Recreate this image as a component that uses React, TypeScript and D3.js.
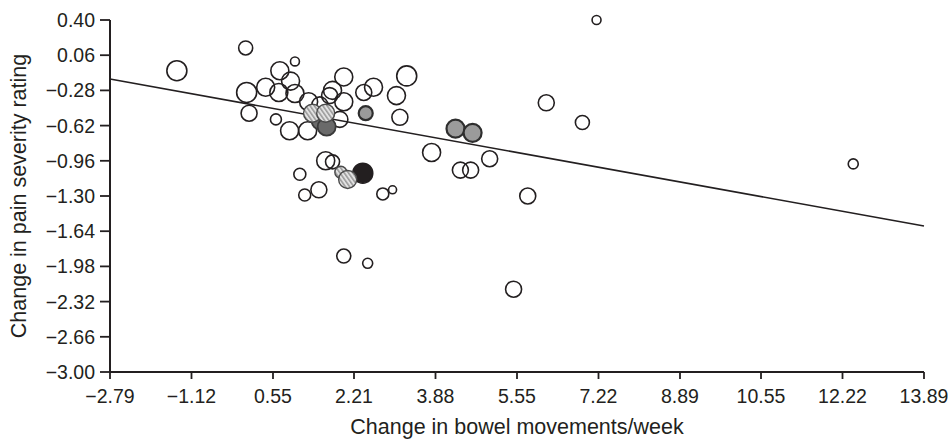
import React, { useEffect, useRef } from 'react';
import * as d3 from 'd3';

// axis ticks as printed on the figure
const xTicks = [-2.79, -1.12, 0.55, 2.21, 3.88, 5.55, 7.22, 8.89, 10.55, 12.22, 13.89];
const yTicks = [0.4, 0.06, -0.28, -0.62, -0.96, -1.3, -1.64, -1.98, -2.32, -2.66, -3.0];

// one entry per study arm
const bowelChange = [
  -1.42, -0.01, 1.0, 0.69, 0.01, 0.4, 0.91, 0.67, 1.0, 0.06, 0.61, 0.89, 1.26, 1.28, 1.51,
  1.77, 1.71, 2.0, 2.0, 1.92, 2.41, 2.61, 3.29, 3.08, 3.15, 2.45, 1.36, 1.63, 1.51, 1.65,
  1.63, 1.77, 1.1, 1.94, 2.08, 2.39, 1.2, 1.49, 2.8, 3.0, 2.0, 2.49, 3.8, 4.29, 4.64,
  4.39, 4.6, 4.99, 5.77, 5.48, 6.15, 6.89, 7.18, 12.44,
];
const painChange = [
  -0.09, 0.13, 0.0, -0.09, -0.3, -0.25, -0.19, -0.3, -0.31, -0.5, -0.56, -0.67, -0.67, -0.39, -0.42,
  -0.28, -0.33, -0.15, -0.39, -0.56, -0.3, -0.25, -0.14, -0.33, -0.54, -0.5, -0.5, -0.5, -0.58, -0.63,
  -0.96, -0.97, -1.09, -1.07, -1.14, -1.08, -1.29, -1.24, -1.28, -1.24, -1.88, -1.95, -0.88, -0.65, -0.69,
  -1.05, -1.05, -0.94, -1.3, -2.2, -0.4, -0.59, 0.4, -0.99,
];
const sampleSize = [
  100, 49, 20, 81, 100, 81, 81, 81, 81, 64, 30, 81, 81, 81, 64,
  81, 64, 81, 81, 64, 64, 81, 100, 81, 64, 49, 81, 81, 64, 81,
  81, 49, 36, 36, 81, 100, 36, 64, 36, 16, 49, 25, 81, 81, 81,
  64, 64, 64, 64, 64, 64, 49, 20, 25,
];
const armType = [
  'open', 'open', 'open', 'open', 'open', 'open', 'open', 'open', 'open', 'open', 'open', 'open', 'open', 'open', 'open',
  'open', 'open', 'open', 'open', 'open', 'open', 'open', 'open', 'open', 'open', 'gray', 'hatched', 'hatched', 'dark', 'dark',
  'open', 'open', 'open', 'hatched', 'hatched', 'black', 'open', 'open', 'open', 'open', 'open', 'open', 'open', 'gray', 'gray',
  'open', 'open', 'open', 'open', 'open', 'open', 'open', 'open', 'open',
];

// fitted regression line
const trendX = [-2.79, 13.89];
const trendY = [-0.17, -1.59];

const drawOrder = ['open', 'dark', 'gray', 'black', 'hatched'];

export default function App() {
  const ref = useRef<SVGSVGElement>(null);

  useEffect(() => {
    if (!ref.current) return;
    const svg = d3.select(ref.current);
    svg.selectAll('*').remove();

    const font = '"Liberation Sans", Arial, Helvetica, sans-serif';
    const ink = '#231f20';
    const left = 110, right = 924, top = 20, bottom = 372;

    const x = d3.scaleLinear().domain([-2.79, 13.89]).range([left, right]);
    const y = d3.scaleLinear().domain([-3.0, 0.4]).range([bottom, top]);
    const r = d3.scaleSqrt().domain([0, 100]).range([0, 10]);

    const defs = svg.append('defs');
    const pat = defs.append('pattern')
      .attr('id', 'hatch')
      .attr('patternUnits', 'userSpaceOnUse')
      .attr('width', 3.5)
      .attr('height', 3.5)
      .attr('patternTransform', 'rotate(-35)');
    pat.append('rect').attr('width', 3.5).attr('height', 3.5).attr('fill', '#e2e2e2');
    pat.append('line').attr('x1', 0.8).attr('x2', 0.8).attr('y1', 0).attr('y2', 3.5)
      .attr('stroke', '#8c8c8c').attr('stroke-width', 1.3);

    // regression line
    svg.append('line')
      .attr('x1', x(trendX[0])).attr('y1', y(trendY[0]))
      .attr('x2', x(trendX[1])).attr('y2', y(trendY[1]))
      .attr('stroke', ink).attr('stroke-width', 1.6);

    const fills: Record<string, string> = {
      open: 'none', gray: '#9b9b9b', dark: '#6a6a6a', black: '#231f20', hatched: 'url(#hatch)',
    };
    const strokes: Record<string, string> = {
      open: ink, gray: '#2e2e2e', dark: '#3a3a3a', black: '#231f20', hatched: '#4a4a4a',
    };
    const widths: Record<string, number> = {
      open: 1.6, gray: 2.2, dark: 1.8, black: 1.5, hatched: 1.4,
    };

    const idx = d3.range(bowelChange.length);
    drawOrder.forEach(type => {
      svg.append('g').selectAll('circle')
        .data(idx.filter(i => armType[i] === type))
        .enter()
        .append('circle')
        .attr('cx', i => x(bowelChange[i]))
        .attr('cy', i => y(painChange[i]))
        .attr('r', i => r(sampleSize[i]))
        .attr('fill', fills[type])
        .attr('stroke', strokes[type])
        .attr('stroke-width', widths[type]);
    });

    // y axis
    const yAxis = svg.append('g');
    yAxis.append('line')
      .attr('x1', left).attr('x2', left).attr('y1', top).attr('y2', bottom)
      .attr('stroke', ink).attr('stroke-width', 2);
    yTicks.forEach(t => {
      yAxis.append('line')
        .attr('x1', left - 10).attr('x2', left).attr('y1', y(t)).attr('y2', y(t))
        .attr('stroke', ink).attr('stroke-width', 1.8);
      yAxis.append('text')
        .attr('x', left - 15).attr('y', y(t)).attr('dy', '0.36em')
        .attr('text-anchor', 'end')
        .attr('font-family', font).attr('font-size', 19.5).attr('fill', ink)
        .text(d3.format('.2f')(t));
    });

    // x axis
    const xAxis = svg.append('g');
    xAxis.append('line')
      .attr('x1', left).attr('x2', right).attr('y1', bottom).attr('y2', bottom)
      .attr('stroke', ink).attr('stroke-width', 2);
    xTicks.forEach(t => {
      xAxis.append('line')
        .attr('x1', x(t)).attr('x2', x(t)).attr('y1', bottom).attr('y2', bottom + 7)
        .attr('stroke', ink).attr('stroke-width', 1.8);
      xAxis.append('text')
        .attr('x', x(t)).attr('y', bottom + 31)
        .attr('text-anchor', 'middle')
        .attr('font-family', font).attr('font-size', 19.5).attr('fill', ink)
        .text(d3.format('.2f')(t));
    });

    svg.append('text')
      .attr('x', (left + right) / 2).attr('y', 434)
      .attr('text-anchor', 'middle')
      .attr('font-family', font).attr('font-size', 21.5).attr('fill', ink)
      .text('Change in bowel movements/week');

    svg.append('text')
      .attr('transform', `translate(26,${(top + bottom) / 2}) rotate(-90)`)
      .attr('text-anchor', 'middle')
      .attr('font-family', font).attr('font-size', 21.5).attr('fill', ink)
      .text('Change in pain severity rating');
  }, []);

  return (
    <svg
      ref={ref}
      width={948}
      height={439}
      style={{ position: 'absolute', left: 0, top: 0, background: '#fff' }}
    />
  );
}
